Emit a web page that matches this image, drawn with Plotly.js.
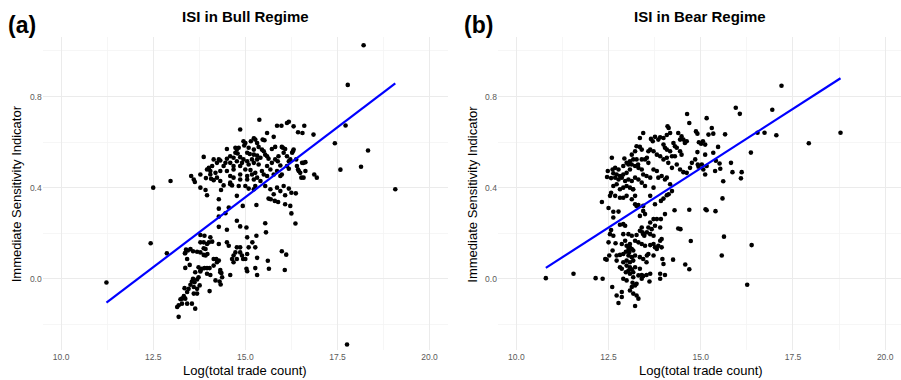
<!DOCTYPE html>
<html>
<head>
<meta charset="utf-8">
<script src="https://cdn.plot.ly/plotly-3.0.1.min.js"></script>
<style>html,body{margin:0;padding:0;background:#fff;}#chart{width:901px;height:380px;}</style>
</head>
<body>
<div id="chart"></div>
<script>
// ---- data: (log total trade count, ISI) pairs ----
const bullPoints = [
[11.23,-0.016],[12.50,0.400],[12.43,0.156],[12.87,0.112],[12.97,0.429],[17.78,0.851],[17.72,0.673],[17.43,0.595],[17.58,0.479],[18.14,0.492],[18.33,0.563],[19.07,0.393],[17.76,-0.288],[18.21,1.025],[16.94,0.444],[16.87,0.458],[16.85,0.633],[16.60,0.672],[16.55,0.640],[16.43,0.643],[16.31,0.669],[16.18,0.689],[16.13,0.684],[15.98,0.672],[15.86,0.672],[15.38,0.698],[14.86,0.655],[15.59,0.640],
[15.23,0.617],[15.27,0.611],[15.47,0.611],[15.52,0.608],[15.77,0.623],[15.15,0.604],[15.32,0.596],[14.95,0.604],[15.00,0.596],[14.97,0.585],[16.31,0.567],[16.29,0.560],[15.99,0.579],[16.02,0.575],[15.81,0.579],[16.08,0.570],[15.72,0.570],
[14.50,0.570],[14.73,0.575],[14.77,0.567],[14.82,0.575],[15.09,0.575],[15.23,0.567],[15.36,0.579],[15.45,0.567],[15.50,0.560],[14.73,0.553],[14.79,0.550],[15.05,0.553],[15.12,0.548],[15.23,0.545],[15.32,0.541],[15.54,0.545],[15.41,0.531],[15.59,0.538],[15.63,0.527],[15.81,0.524],[15.90,0.538],[16.04,0.553],[16.13,0.538],[16.22,0.524],[16.18,0.516],[16.27,0.553],[16.38,0.524],
[13.87,0.535],[14.14,0.524],[14.28,0.524],[14.32,0.519],[14.50,0.527],[14.59,0.538],[14.68,0.531],[14.86,0.534],[14.95,0.524],[15.18,0.524],[15.23,0.509],[15.32,0.524],[15.05,0.516],[14.77,0.516],[14.91,0.509],[14.59,0.509],[14.46,0.509],[14.23,0.509],[14.10,0.495],[14.01,0.483],[14.41,0.495],[14.68,0.495],[14.86,0.495],[15.09,0.502],[15.36,0.502],[15.59,0.495],[15.72,0.509],[15.88,0.516],[15.95,0.497],[16.13,0.495],[16.40,0.495],[16.45,0.473],[16.54,0.509],[16.58,0.509],[16.63,0.512],
[13.96,0.480],[14.05,0.473],[14.19,0.465],[14.32,0.473],[14.50,0.473],[14.68,0.480],[15.00,0.480],[15.14,0.477],[15.27,0.465],[15.45,0.473],[15.50,0.458],[15.68,0.480],[15.86,0.473],[15.99,0.458],[16.18,0.483],[16.43,0.480],[16.49,0.465],[16.52,0.444],[16.58,0.444],[16.63,0.473],[13.53,0.451],[13.60,0.436],[13.63,0.425],[13.78,0.458],[14.05,0.458],[14.23,0.444],[14.59,0.451],[14.68,0.444],[14.86,0.458],[15.05,0.451],[15.18,0.458],[15.32,0.444],[15.59,0.451],[15.77,0.458],[15.95,0.451],[15.23,0.436],[15.41,0.429],[15.05,0.436],[14.86,0.436],[14.59,0.422],[14.32,0.429],[14.14,0.433],[14.07,0.439],[13.93,0.442],[14.01,0.487],
[13.78,0.400],[13.92,0.390],[13.96,0.367],[14.28,0.349],[14.34,0.390],[14.41,0.410],[14.59,0.415],[14.64,0.410],[14.82,0.407],[15.00,0.407],[15.27,0.407],[15.54,0.407],[15.68,0.393],[15.86,0.400],[15.95,0.385],[16.08,0.367],[15.77,0.371],[15.80,0.342],[15.89,0.337],[15.63,0.352],[15.69,0.349],[16.04,0.407],[16.18,0.396],[16.25,0.378],[16.37,0.375],[15.23,0.393],[15.09,0.396],[14.77,0.364],[14.93,0.320],[15.30,0.324],[16.08,0.327],[16.22,0.320],[16.25,0.287],[16.36,0.243],[14.28,0.308],[14.28,0.273],[14.46,0.288],[14.55,0.313],[15.54,0.244],[15.56,0.204],[15.30,0.189],[15.03,0.225],[14.86,0.230],[14.77,0.255],[14.50,0.215],[14.28,0.228],[15.05,0.182],
[13.78,0.192],[13.89,0.189],[13.87,0.160],[13.78,0.160],[14.01,0.160],[14.05,0.182],[14.10,0.163],[14.28,0.153],[14.50,0.160],[14.55,0.145],[14.77,0.138],[14.86,0.138],[15.09,0.138],[15.19,0.160],[15.27,0.138],[14.73,0.116],[14.86,0.116],[14.91,0.102],[15.05,0.109],[15.00,0.087],[14.94,0.087],[14.68,0.102],[14.64,0.087],[14.68,0.073],[15.32,0.092],[15.61,0.079],[15.99,0.121],[16.11,0.106],[16.07,0.039],[15.64,0.044],[15.32,0.017],[15.27,0.047],[15.05,0.033],[15.03,0.044],[14.77,0.087],[14.59,0.017],[14.32,0.039],[14.28,0.080],[14.21,0.087],[14.14,0.087],[14.23,0.073],[14.03,0.047],[13.96,0.047],[13.89,0.047],[13.82,0.044],[13.78,0.036],[14.14,0.058],[14.32,0.029],[14.37,0.007],[14.30,-0.012],[14.19,-0.007],[13.96,0.022],[14.05,0.017],[13.78,0.032],[13.73,0.051],[13.64,0.029],[13.58,0.000],[13.55,-0.012],[13.62,-0.015],[13.69,-0.003],[13.73,0.007],[13.76,-0.029],[13.69,-0.044],[13.60,-0.036],[13.51,-0.026],[13.46,-0.044],[13.42,-0.058],[13.35,-0.041],[13.33,-0.076],[13.28,-0.087],[13.24,-0.090],[13.37,-0.087],[13.60,-0.065],[13.69,-0.065],[13.42,-0.109],[13.28,-0.109],[13.19,-0.116],[13.15,-0.124],[13.19,-0.167],[13.55,-0.109],[13.64,-0.131],[14.03,-0.054],[14.33,-0.025],[14.35,0.025],[13.49,0.061],[13.37,0.048],[13.42,0.087],[13.36,0.112],[13.44,0.124],[13.51,0.131],[13.58,0.121],[13.69,0.119],[13.78,0.116],[13.87,0.105],[13.92,0.102],[13.97,0.109],[13.92,0.131],[13.87,0.134],[13.96,0.153],[13.39,0.128],[13.37,0.113]
];
const bearPoints = [
[10.80,0.003],[11.55,0.022],[12.15,0.003],[12.34,0.000],[12.32,0.337],[12.46,0.447],[17.19,0.847],[16.94,0.742],[17.05,0.630],[16.73,0.641],[16.54,0.641],[17.93,0.595],[18.79,0.641],[15.95,0.751],[16.06,0.724],[16.36,0.554],[16.11,0.468],[16.09,0.441],[15.86,0.468],[15.82,0.509],[16.38,0.148],[16.26,-0.026],[15.63,0.185],[15.57,0.102],[15.59,0.353],[15.61,0.428],[15.40,0.297],[15.13,0.305],[15.16,0.301],[14.69,0.303],[14.73,0.166],[14.58,0.063],[14.69,0.042],[14.39,0.221],[14.45,0.218],[14.29,0.301],[14.25,0.084],[14.63,0.723],[14.69,0.684],[15.16,0.705],[15.66,0.634],[15.30,0.662],[15.34,0.637],[15.47,0.579],[15.51,0.506],[15.53,0.483],[15.39,0.473],[15.41,0.518],[15.34,0.553],[15.12,0.545],[15.03,0.502],[14.94,0.492],[15.07,0.480],[15.12,0.458],[15.16,0.495],[14.92,0.502],[14.91,0.556],[14.95,0.599],[15.01,0.593],[14.87,0.647],[14.91,0.637],[15.21,0.633],[15.12,0.589],[15.06,0.604],
[13.44,0.640],[13.35,0.618],[13.26,0.582],[13.35,0.579],[13.40,0.567],[13.22,0.560],[13.65,0.614],[13.70,0.604],[13.76,0.623],[13.85,0.611],[13.90,0.621],[13.99,0.618],[14.08,0.631],[14.10,0.669],[14.13,0.662],[14.17,0.640],[14.39,0.640],[14.48,0.625],[14.44,0.611],[14.53,0.611],[14.57,0.596],[14.62,0.604],[14.26,0.596],[14.30,0.582],[14.35,0.575],[14.44,0.560],[14.48,0.545],[13.99,0.589],[14.03,0.575],[14.08,0.567],[14.17,0.560],[14.22,0.538],[14.30,0.538],[13.58,0.560],[13.63,0.567],[13.72,0.560],[13.81,0.545],[13.90,0.538],[13.99,0.524],[14.08,0.531],[14.12,0.509],[14.22,0.487],[14.35,0.502],[14.44,0.480],[14.53,0.468],[14.62,0.465],[14.71,0.487],[14.76,0.509],[14.85,0.524],[13.13,0.545],[13.17,0.524],[13.26,0.524],[13.40,0.524],[13.49,0.524],[13.54,0.531],[13.58,0.509],[13.72,0.480],[13.81,0.473],[13.94,0.451],[13.85,0.444],[14.03,0.436],[14.08,0.444],[14.17,0.415],[14.22,0.385],[14.13,0.371],[14.08,0.367],[13.99,0.352],[13.92,0.342],[13.72,0.400],[13.63,0.364],[13.76,0.327],[13.44,0.320],[13.31,0.324],[13.22,0.327],[13.26,0.320],
[12.68,0.487],[12.77,0.480],[12.90,0.495],[12.63,0.463],[12.72,0.458],[12.81,0.451],[12.90,0.458],[12.99,0.465],[13.08,0.480],[13.13,0.502],[13.04,0.502],[12.99,0.509],[13.08,0.516],[13.22,0.495],[13.31,0.487],[13.40,0.480],[13.44,0.458],[13.53,0.451],[13.63,0.444],[12.68,0.444],[12.77,0.436],[12.86,0.444],[12.95,0.429],[13.04,0.436],[13.13,0.429],[13.22,0.444],[13.31,0.436],[13.40,0.422],[13.49,0.407],[12.72,0.415],[12.63,0.407],[12.81,0.393],[12.90,0.400],[12.99,0.407],[13.08,0.400],[13.17,0.393],[12.57,0.378],[12.54,0.364],[12.68,0.364],[12.81,0.356],[12.90,0.356],[12.99,0.364],[13.13,0.349],[13.16,0.393],[13.22,0.364],[12.59,0.531],[12.93,0.528],[12.61,0.480],[12.48,0.473],[12.57,0.442],[13.30,0.502],
[12.50,0.311],[12.77,0.295],[12.63,0.294],[12.63,0.269],[12.90,0.240],[12.95,0.233],[12.81,0.237],[12.57,0.214],[12.63,0.189],[12.54,0.196],[13.35,0.276],[13.44,0.298],[13.49,0.284],[13.72,0.262],[13.81,0.262],[13.63,0.247],[13.58,0.225],[13.67,0.218],[13.54,0.204],[13.63,0.196],[13.72,0.189],[13.76,0.233],[13.90,0.225],[14.03,0.284],[13.92,0.262],[13.35,0.211],[13.42,0.204],[13.26,0.192],[13.13,0.189],[13.04,0.196],[12.90,0.196],[13.90,0.167],[13.94,0.175],[13.72,0.153],[13.63,0.148],[13.40,0.153],[13.31,0.160],[13.22,0.167],[13.08,0.153],[12.95,0.167],[12.86,0.153],[12.69,0.156],[12.50,0.160],[12.61,0.124],
[12.99,0.145],[13.08,0.138],[13.04,0.131],[13.13,0.131],[12.97,0.119],[13.06,0.116],[13.17,0.124],[12.90,0.109],[13.04,0.102],[13.13,0.095],[13.22,0.102],[12.72,0.102],[12.81,0.105],[12.41,0.087],[12.45,0.084],[12.52,0.102],[12.72,0.080],[12.90,0.073],[12.99,0.080],[13.08,0.073],[13.17,0.080],[12.99,0.058],[13.08,0.051],[13.13,0.041],[13.04,0.036],[12.97,0.029],[13.08,0.022],[13.17,0.029],[13.22,0.051],[12.81,0.051],[12.86,0.044],[12.90,0.000],[12.99,-0.007],[13.17,0.007],[13.15,-0.017],[13.22,-0.029],[13.13,-0.036],[13.08,-0.051],[13.17,-0.065],[13.26,-0.073],[13.31,-0.087],[13.22,-0.119],[12.77,-0.106],[12.86,-0.080],[12.72,-0.073],[12.60,-0.036],[12.86,-0.058],[13.31,0.015],[13.40,0.017],[13.44,0.012],[13.40,0.000],[13.53,0.017],[13.61,-0.012],[13.47,0.189],[13.54,0.102],[13.58,0.109],[13.72,0.102],[13.76,0.138],[13.85,0.145],[13.81,0.131],[13.94,0.138],[13.96,0.087],[13.99,0.065],[13.90,0.022],[13.90,0.000],[14.03,0.017],[13.63,0.022],[13.26,-0.022],[13.49,0.145],[13.35,0.095],[13.44,0.087],[13.53,0.073],[13.35,0.044],[13.44,0.196],[13.40,0.225]
];
// fitted regression lines (end points)
const bullFitX = [11.23, 19.07];
const bullFitY = [-0.105, 0.858];
const bearFitX = [10.80, 18.79];
const bearFitY = [0.048, 0.880];
// labels
const panelTitles = ["ISI in Bull Regime", "ISI in Bear Regime"];
const panelTags = ["(a)", "(b)"];
const xTitle = "Log(total trade count)";
const yTitle = "Immediate Sensitivity Indicator";

const FONT = "Liberation Sans, Arial, Helvetica, sans-serif";
const pts = (arr, xa, ya) => ({
  x: arr.map(p => p[0]), y: arr.map(p => p[1]), xaxis: xa, yaxis: ya,
  type: 'scatter', mode: 'markers', hoverinfo: 'skip',
  marker: {color: '#000000', size: 4.6, line: {width: 0}}
});
const fit = (xs, ys, xa, ya) => ({
  x: xs, y: ys, xaxis: xa, yaxis: ya, type: 'scatter', mode: 'lines',
  hoverinfo: 'skip', line: {color: '#0000FF', width: 2.2}
});

const data = [
  pts(bullPoints, 'x', 'y'),
  fit(bullFitX, bullFitY, 'x', 'y'),
  pts(bearPoints, 'x2', 'y2'),
  fit(bearFitX, bearFitY, 'x2', 'y2')
];

const xBase = {
  tick0: 10, dtick: 2.5, tickformat: '.1f', ticks: '', showline: false, zeroline: false,
  gridcolor: '#ebebeb', gridwidth: 1,
  minor: {tick0: 10, dtick: 1.25, showgrid: true, gridcolor: '#f4f4f4', gridwidth: 0.8},
  tickfont: {family: FONT, size: 8.5, color: '#5a5a5a'}, automargin: false, fixedrange: true
};
const yBase = {
  range: [-0.3125, 1.0625], tick0: 0, dtick: 0.4, tickformat: '.1f', ticks: '', showline: false, zeroline: false,
  gridcolor: '#ebebeb', gridwidth: 1,
  minor: {tick0: 0, dtick: 0.2, showgrid: true, gridcolor: '#f4f4f4', gridwidth: 0.8},
  tickfont: {family: FONT, size: 8.5, color: '#5a5a5a'}, automargin: false, fixedrange: true
};

const ann = (text, x, y, size, bold, angle) => ({
  text: bold ? '<b>' + text + '</b>' : text, x: x, y: y, xref: 'paper', yref: 'paper',
  xanchor: 'center', yanchor: 'middle', showarrow: false, textangle: angle || 0,
  font: {family: FONT, size: size, color: '#000000'}
});

const layout = {
  width: 901, height: 380,
  margin: {l: 0, r: 0, t: 0, b: 0},
  paper_bgcolor: '#ffffff', plot_bgcolor: '#ffffff',
  showlegend: false,
  xaxis: Object.assign({}, xBase, {domain: [0.0474, 0.4972], range: [9.5, 20.5], anchor: 'y'}),
  yaxis: Object.assign({}, yBase, {domain: [0.0789, 0.9034], anchor: 'x'}),
  xaxis2: Object.assign({}, xBase, {domain: [0.5526, 1.0], range: [9.5, 20.43], anchor: 'y2'}),
  yaxis2: Object.assign({}, yBase, {domain: [0.0789, 0.9034], anchor: 'x2'}),
  annotations: [
    ann(panelTitles[0], 0.2723, 0.956, 15, true),
    ann(panelTitles[1], 0.777, 0.956, 15, true),
    ann(panelTags[0], 0.0239, 0.934, 23, true),
    ann(panelTags[1], 0.5316, 0.934, 23, true),
    ann(xTitle, 0.2723, 0.0245, 13, false),
    ann(xTitle, 0.7777, 0.0245, 13, false),
    ann(yTitle, 0.0192, 0.4895, 13, false, -90),
    ann(yTitle, 0.5246, 0.4895, 13, false, -90)
  ]
};

Plotly.newPlot('chart', data, layout, {displayModeBar: false, staticPlot: true});
</script>
</body>
</html>
